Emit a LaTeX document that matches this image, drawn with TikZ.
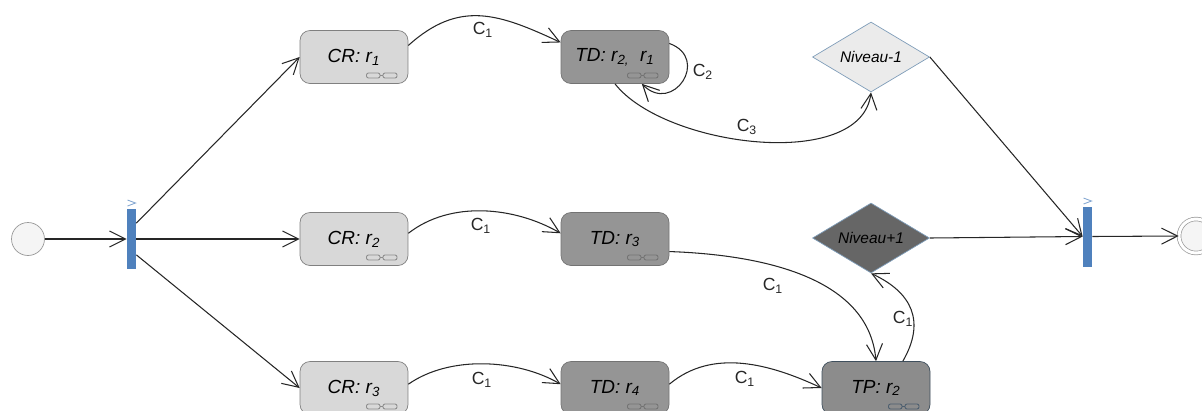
\documentclass[tikz,border=0pt]{standalone}
\usepackage{fontspec}
\setmainfont{Liberation Sans}
\usetikzlibrary{arrows.meta,shapes.geometric}
\definecolor{crfill}{HTML}{D8D8D8}
\definecolor{tdfill}{HTML}{959595}
\definecolor{tpfill}{HTML}{8C8C8C}
\definecolor{edgeblue}{HTML}{7F9DB9}
\definecolor{barblue}{HTML}{4F81BD}
\newcommand{\rr}[1]{r\textsubscript{#1}}
\newcommand{\cc}[1]{C\textsubscript{#1}}
\begin{document}
\begin{tikzpicture}[x=0.02cm,y=-0.02cm,
  act/.style={rectangle,rounded corners=0.2cm,minimum width=2.16cm,minimum height=1.06cm,inner sep=0pt,font=\itshape\fontsize{10.8}{13}\selectfont},
  cract/.style={act,draw=black!50,fill=crfill},
  tdact/.style={act,draw=black!55,fill=tdfill},
  tpact/.style={act,draw=edgeblue!50!black,fill=tpfill},
  choice/.style={diamond,shape aspect=1.66,minimum width=2.34cm,minimum height=1.4cm,inner sep=0pt,font=\itshape\fontsize{8.8}{10}\selectfont},
  syncbar/.style={rectangle,fill=barblue,minimum width=0.18cm,minimum height=1.2cm,inner sep=0pt},
  startev/.style={circle,draw=black!40,fill=black!4,minimum size=0.66cm,inner sep=0pt},
  endev/.style={circle,draw=black!40,double=white,double distance=0.06cm,fill=black!4,minimum size=0.68cm,inner sep=0pt},
  flow/.style={draw=black!85,line width=0.6pt,-{Straight Barb[length=0.32cm,width=0.32cm]}},
  cname/.style={font=\fontsize{10}{12}\selectfont,text=black!85,inner sep=0pt},
  glass/.style={line width=0.5pt,rounded corners=0.04cm}]
\useasboundingbox (0,0) rectangle (1202,410);
\clip (0,0) rectangle (1202,410);
\node [startev] (start) at (28,239) {};
\node [syncbar] (fork) at (131.5,239) {};
\node [cract] (cr1) at (354,57) {\textit{CR: \rr{1}}};
\node [cract] (cr2) at (354,239) {\textit{CR: \rr{2}}};
\node [cract] (cr3) at (354,388) {\textit{CR: \rr{3}}};
\node [tdact] (td1) at (615,57) {\textit{TD: \rr{2,}~~\rr{1}}};
\node [tdact] (td2) at (615,239) {\textit{TD: \rr{3}}};
\node [tdact] (td3) at (615,388) {\textit{TD: \rr{4}}};
\node [tpact] (tp) at (876,388) {\textit{TP: \rr{2}}};
\node [choice,draw=edgeblue,fill=black!8] (nivm) at (871,57) {Niveau-1};
\node [choice,draw=edgeblue,fill=black!60] (nivp) at (871,238) {Niveau+1};
\node [syncbar] (join) at (1087.5,236.5) {};
\node [endev] (end) at (1196,236) {};
\coordinate (forkmark) at (131.5,203);
\coordinate (joinmark) at (1087.5,201);
\foreach \m in {forkmark,joinmark}
  \draw [barblue!70,line width=0.5pt] ([shift={(-4,-3)}]\m.center) -- ([shift={(4,0)}]\m.center) -- ([shift={(-4,3)}]\m.center);
\foreach \n/\c in {cr1/black!45,cr2/black!45,cr3/black!45,td1/black!55,td2/black!55,td3/black!55,tp/edgeblue!60!black} {
  \begin{scope}[shift={(\n.center)}]
  \draw [glass,draw=\c] (12.5,16) rectangle (26,21);
  \draw [glass,draw=\c] (29,16) rectangle (43,21);
  \draw [draw=\c,line width=0.5pt] (26,18.5) -- (29,18.5);
  \end{scope}
}
\draw [flow] (start) -- (fork.west);
\draw [flow] (fork.73) -- (cr1.west);
\draw [flow] (fork.east) -- (cr2.west);
\draw [flow] (fork.-73) -- (cr3.west);
\draw [flow] (cr1.12.5) to [out=42,in=155,looseness=1.15] (td1.165);
\draw [flow] (cr2.6) to [out=38,in=150,looseness=0.9] (td2.174);
\draw [flow] (cr3.4) to [out=35,in=150,looseness=0.85] (td3.176);
\draw [flow] (td3.4) to [out=40,in=155,looseness=0.95] (tp.west);
\draw [flow] (td1.14.5) to [out=-20,in=-45,looseness=2.3] (td1.-45);
\draw [flow] (td1.south) to [out=-52,in=-97,looseness=0.8] (nivm.south);
\draw [flow] (td2.-13.5) to [out=-2,in=95,looseness=0.95] (tp.north);
\draw [flow] (tp.45) to [out=60,in=-25,looseness=1.25] (nivp.south);
\draw [flow] (nivm.east) -- (join.west);
\draw [flow] (nivp.east) -- (join.west);
\draw [flow] (join.east) -- (end.west);
\node [cname] (c1a) at (483,30) {\cc{1}};
\node [cname] (c1b) at (481,226) {\cc{1}};
\node [cname] (c1c) at (482,380) {\cc{1}};
\node [cname] (c1d) at (745,379) {\cc{1}};
\node [cname] (c1e) at (773,286) {\cc{1}};
\node [cname] (c1f) at (903,319) {\cc{1}};
\node [cname] (c2) at (703,72) {\cc{2}};
\node [cname] (c3) at (747,127) {\cc{3}};
\end{tikzpicture}
\end{document}
